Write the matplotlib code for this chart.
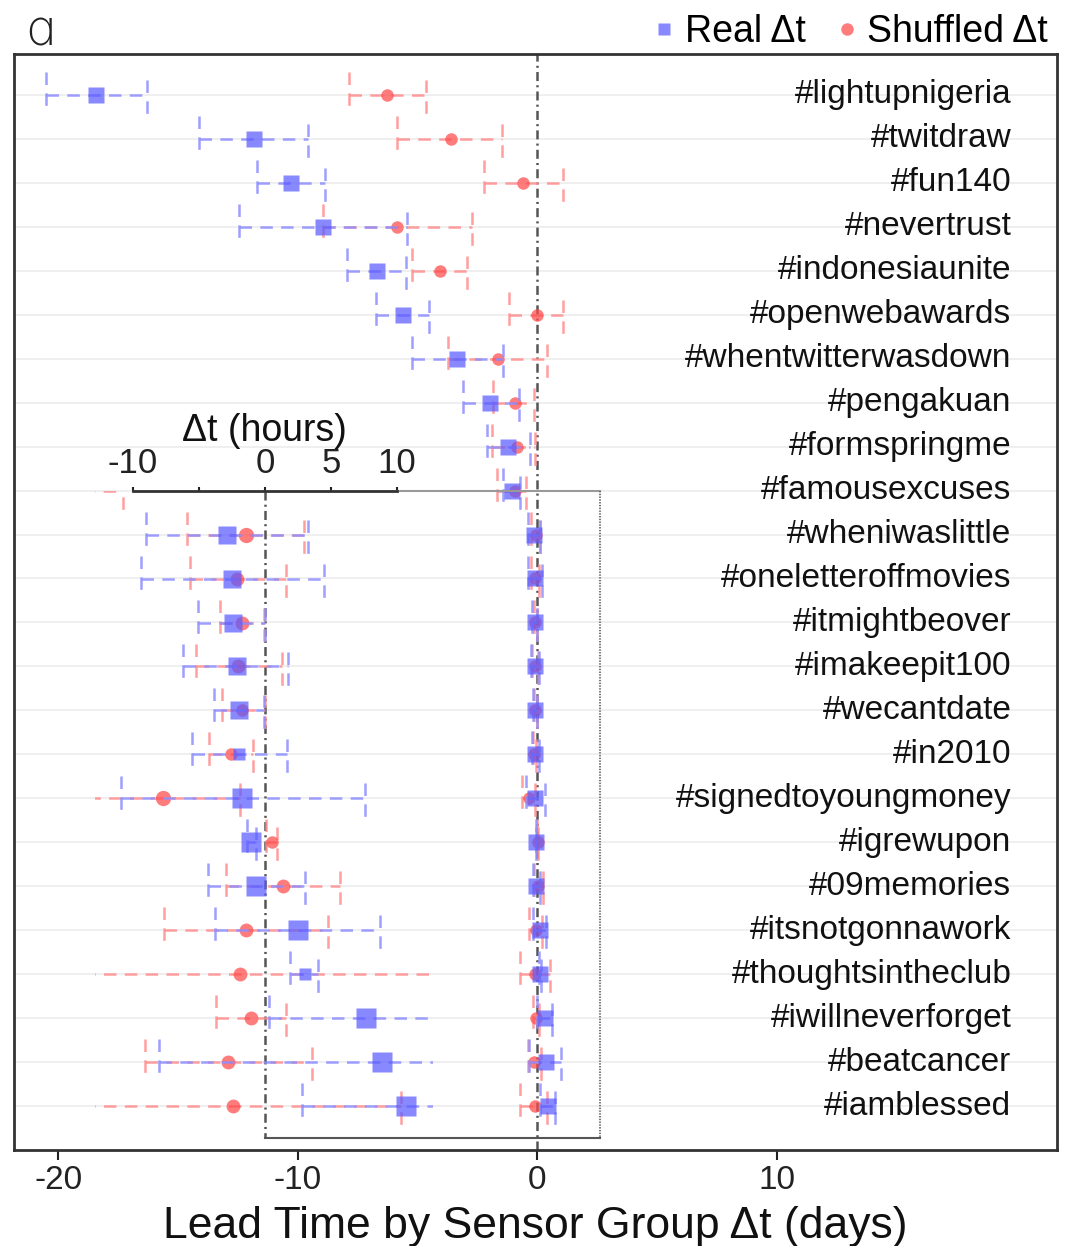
import matplotlib

matplotlib.use("Agg")
import matplotlib.pyplot as plt
import numpy as np
from matplotlib.lines import Line2D

plt.rcParams["font.family"] = ["Liberation Sans", "DejaVu Sans"]
plt.rcParams["lines.scale_dashes"] = False

TAGS = [
    "#lightupnigeria", "#twitdraw", "#fun140", "#nevertrust", "#indonesiaunite",
    "#openwebawards", "#whentwitterwasdown", "#pengakuan", "#formspringme",
    "#famousexcuses", "#wheniwaslittle", "#oneletteroffmovies", "#itmightbeover",
    "#imakeepit100", "#wecantdate", "#in2010", "#signedtoyoungmoney", "#igrewupon",
    "#09memories", "#itsnotgonnawork", "#thoughtsintheclub", "#iwillneverforget",
    "#beatcancer", "#iamblessed",
]

# first ten hashtags, lead time in days (mean, lower, upper)
TOP_REAL = [-18.4, -11.8, -10.27, -8.94, -6.68, -5.6, -3.34, -1.96, -1.21, -1.04]
TOP_REAL_LO = [-20.5, -14.1, -11.69, -12.44, -7.93, -6.72, -5.22, -3.09, -2.09, -1.42]
TOP_REAL_HI = [-16.3, -9.56, -8.85, -5.43, -5.47, -4.51, -1.42, -0.75, -0.29, -0.71]
TOP_SHUF = [-6.26, -3.6, -0.58, -5.85, -4.05, 0.0, -1.63, -0.92, -0.85, -0.92]
TOP_SHUF_LO = [-7.85, -5.85, -2.21, -8.94, -5.22, -1.17, -3.72, -1.84, -1.88, -1.67]
TOP_SHUF_HI = [-4.63, -1.46, 1.09, -2.71, -2.92, 1.09, 0.42, -0.13, -0.08, -0.45]

# remaining fourteen hashtags, lead time in hours
BOT_REAL = [-2.88, -2.5, -2.42, -2.12, -1.97, -1.97, -1.74, -1.06, -0.68, 2.5, 3.03, 7.65, 8.86, 10.7]
BOT_REAL_LO = [-9.02, -9.39, -5.08, -6.21, -3.86, -5.53, -10.9, -1.36, -4.32, -3.83, 1.89, 0.3, -8.03, 2.8]
BOT_REAL_HI = [3.26, 4.47, 0.0, 1.74, -0.08, 1.67, 7.58, -0.68, 3.03, 8.7, 4.02, 15.0, 24.0, 18.0]
BOT_SHUF = [-1.44, -2.12, -1.74, -2.05, -1.74, -2.58, -7.73, 0.53, 1.36, -1.44, -1.89, -1.06, -2.8, -2.42]
BOT_SHUF_LO = [-5.91, -5.68, -3.41, -5.23, -3.26, -4.24, -15.0, 0.08, -2.99, -7.65, -17.0, -3.71, -9.13, -17.0]
BOT_SHUF_HI = [2.95, 1.59, -0.08, 1.29, 0.0, -0.91, -1.89, 0.91, 5.68, 4.77, 13.0, 1.59, 3.56, 10.3]

# marker sizes (points) used inside the hours inset for the lower block
BOT_REAL_MS = [13, 13, 13, 13, 13, 9, 14, 14, 14, 14, 9, 14, 14, 14]
BOT_SHUF_MS = [11, 10, 10, 10, 9, 9, 11, 9, 10, 10, 10, 10, 10, 10]

DAY_TICKS = [-20, -10, 0, 10]
HOUR_TICKS = [-10, -5, 0, 5, 10]
HOUR_TICK_LABELS = ["-10", "", "0", "5", "10"]

BLUE = "#5a5aff"
RED = "#ff4a4a"
BLUE_BAR = "#8e8eff"
RED_BAR = "#ff8e8e"
DASH = (0, (9.0, 6.0))
DASHDOT = (0, (6.5, 3.0, 1.5, 3.0))


def draw_bars(ax, y, c, lo, hi, color, bar_color, marker, ms, z):
    for yi, l, h in zip(y, lo, hi):
        kw = dict(color=bar_color, lw=1.8, linestyle=DASH, alpha=0.85, zorder=z)
        ax.plot([l, h], [yi, yi], **kw)
        ax.plot([l, l], [yi - 0.52, yi + 0.34], **kw)
        ax.plot([h, h], [yi - 0.34, yi + 0.52], **kw)
    for xi, yi, m in zip(c, y, ms):
        ax.plot(xi, yi, marker=marker, ms=m, color=color, mec="none", alpha=0.72,
                linestyle="none", zorder=z + 1)


rows = np.arange(1, len(TAGS) + 1)
real_days = np.concatenate([TOP_REAL, np.array(BOT_REAL) / 24])
real_lo_days = np.concatenate([TOP_REAL_LO, np.array(BOT_REAL_LO) / 24])
real_hi_days = np.concatenate([TOP_REAL_HI, np.array(BOT_REAL_HI) / 24])
shuf_days = np.concatenate([TOP_SHUF, np.array(BOT_SHUF) / 24])
shuf_lo_days = np.concatenate([TOP_SHUF_LO, np.array(BOT_SHUF_LO) / 24])
shuf_hi_days = np.concatenate([TOP_SHUF_HI, np.array(BOT_SHUF_HI) / 24])

fig = plt.figure(figsize=(10.69, 12.46), dpi=100)
ax = fig.add_axes([0.0131, 0.0770, 0.9757, 0.8797])
ax.set_xlim(-21.84, 21.71)
ax.set_ylim(25.0, 0.07)

ax.set_yticks(rows)
ax.set_yticklabels([])
ax.tick_params(axis="y", length=0)
ax.grid(axis="y", color="#ececec", lw=1.2)
ax.set_axisbelow(True)

ax.set_xticks(DAY_TICKS)
ax.set_xticklabels([str(t) for t in DAY_TICKS])
ax.tick_params(axis="x", direction="out", length=7, width=1.5, labelsize=24, pad=4, colors="#222222")
for sp in ax.spines.values():
    sp.set_color("#333333")
    sp.set_linewidth(2.0)

ax.axvline(0, color="#555555", lw=1.8, linestyle=DASHDOT, zorder=1)

n = len(TAGS)
draw_bars(ax, rows, shuf_days, shuf_lo_days, shuf_hi_days, RED, RED_BAR, "o", [9] * n, 2)
draw_bars(ax, rows, real_days, real_lo_days, real_hi_days, BLUE, BLUE_BAR, "s", [11] * n, 4)

for r, tag in zip(rows, TAGS):
    ax.text(19.8, r, tag, ha="right", va="center", fontsize=24, color="#111111")

ax.set_xlabel("Lead Time by Sensor Group Δt (days)", fontsize=32, labelpad=7, color="#111111")

handles = [
    Line2D([], [], marker="s", color=BLUE, alpha=0.72, linestyle="none", ms=9, mec="none"),
    Line2D([], [], marker="o", color=RED, alpha=0.72, linestyle="none", ms=9, mec="none"),
]
ax.legend(handles, ["Real Δt", "Shuffled Δt"], loc="lower right", bbox_to_anchor=(0.995, 1.0),
          ncol=2, frameon=False, fontsize=27, handlelength=0.6, handletextpad=0.25,
          columnspacing=0.8, borderaxespad=0.0, borderpad=0.1)

fig.text(0.022, 1 - 45 / 1246, "ɑ", fontsize=36, family="DejaVu Sans", fontweight="light",
         ha="left", va="baseline", color="#222222")

# hours inset over the lower block of hashtags
axi = ax.inset_axes([0.0777, 0.0, 0.3241, 0.6016])
axi.set_facecolor("none")
axi.set_xlim(-12.88, 12.73)
axi.set_ylim(25.0, 10.0)
for side in ("left", "right", "bottom"):
    axi.spines[side].set_visible(False)
axi.spines["top"].set_bounds(-10, 10)
axi.spines["top"].set_color("#333333")
axi.spines["top"].set_linewidth(2.0)
axi.set_yticks([])
axi.xaxis.set_ticks_position("top")
axi.xaxis.set_label_position("top")
axi.set_xticks(HOUR_TICKS)
axi.set_xticklabels(HOUR_TICK_LABELS)
axi.tick_params(axis="x", direction="out", length=3, width=1.5, labelsize=25, pad=5, colors="#222222")
axi.set_xlabel("Δt (hours)", fontsize=27, labelpad=4, color="#111111")

real_ms = [11] * len(TOP_REAL) + BOT_REAL_MS
shuf_ms = [9] * len(TOP_SHUF) + BOT_SHUF_MS
draw_bars(axi, rows, shuf_days * 24, shuf_lo_days * 24, shuf_hi_days * 24, RED, RED_BAR, "o", shuf_ms, 2)
draw_bars(axi, rows, real_days * 24, real_lo_days * 24, real_hi_days * 24, BLUE, BLUE_BAR, "s", real_ms, 4)

# frame around the inset region
frame_right, frame_bottom = 25.4, 24.73
axi.plot([0, 0], [10.0, frame_bottom], color="#555555", lw=1.8, linestyle=DASHDOT, clip_on=False, zorder=1)
axi.plot([10, frame_right], [10.0, 10.0], color="#999999", lw=1.5, clip_on=False)
axi.plot([frame_right, frame_right], [10.0, frame_bottom], color="#777777", lw=1.5,
         linestyle=(0, (1.0, 1.0)), clip_on=False)
axi.plot([0, frame_right], [frame_bottom, frame_bottom], color="#555555", lw=1.5, clip_on=False)

fig.savefig("out.png", dpi=100)
